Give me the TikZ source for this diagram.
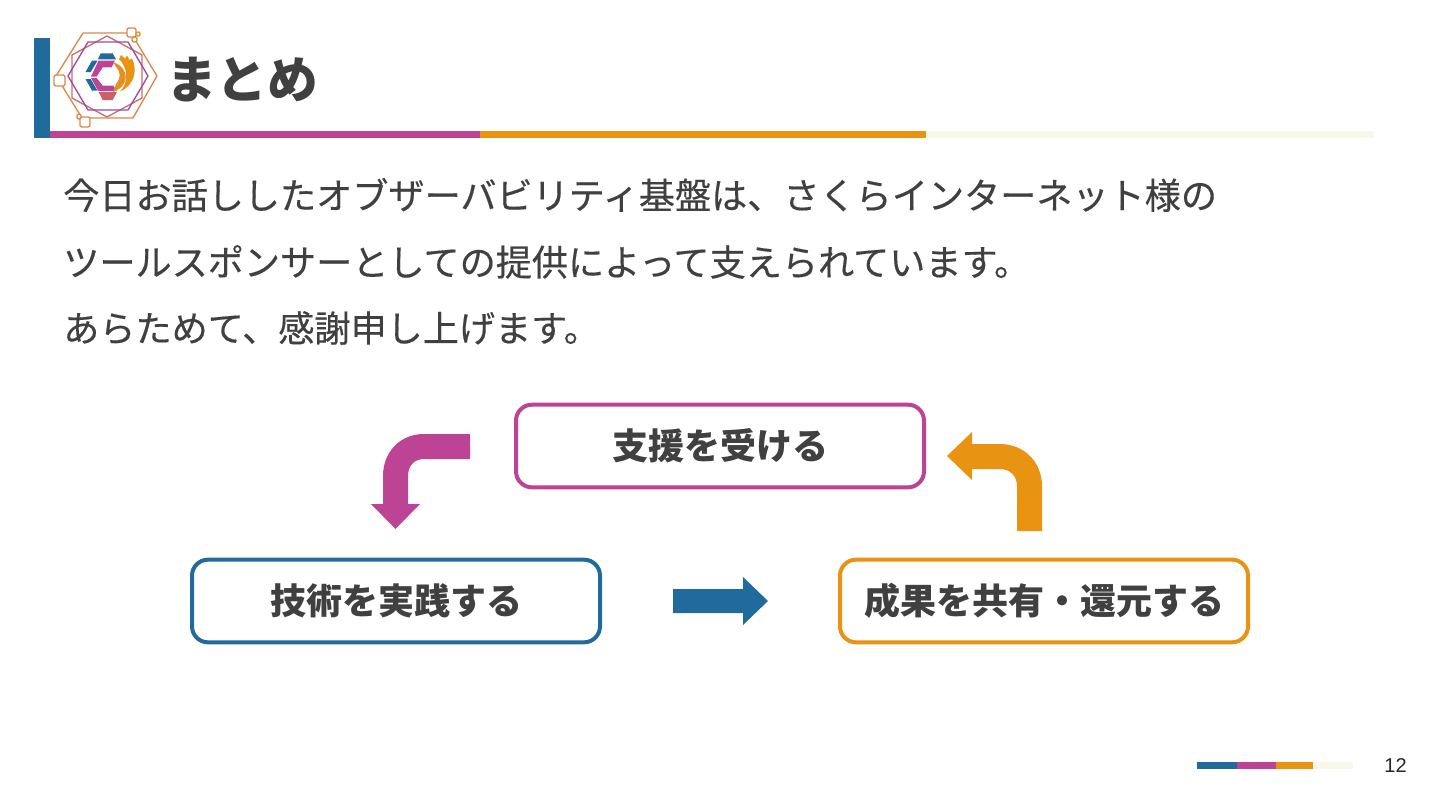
\documentclass[tikz,border=0pt]{standalone}
\usepackage{fontspec}
\setmainfont{Noto Sans CJK JP}
\newfontfamily\bodyfont[FakeBold=0.35]{Noto Sans CJK JP}
\newfontfamily\latinfont{Liberation Sans}
\usetikzlibrary{calc}
\definecolor{cblue}{HTML}{206A9C}
\definecolor{cpink}{HTML}{BD4494}
\definecolor{corange}{HTML}{E99312}
\definecolor{cpale}{HTML}{F8F8E8}
\definecolor{ctext}{HTML}{404040}
\definecolor{cbrown}{HTML}{D98A4B}
\definecolor{cpurple}{HTML}{9A4BA0}
\tikzset{
  x=0.75pt,y=-0.75pt,
  bodytext/.style={anchor=west,inner sep=0pt,text=ctext,font=\bodyfont\fontsize{27.1}{27.1}\selectfont},
  cyclebox/.style={draw=#1,line width=3pt,rounded corners=12pt,minimum width=306pt,minimum height=62pt,inner sep=0pt,fill=white,text=ctext,font=\fontsize{27}{27}\selectfont\bfseries},
  logoline/.style={draw=#1,line width=1pt,line join=round},
  tag/.style={draw=cbrown,line width=1pt,fill=white,rounded corners=1.5pt},
}
\begin{document}
\begin{tikzpicture}
\useasboundingbox (0,0) rectangle (1440,810);
\fill[white] (0,0) rectangle (1440,810);
% header bars
\fill[cblue] (34,38) rectangle (50,138);
\fill[cpink] (50,131) rectangle (480,138);
\fill[corange] (480,131) rectangle (926,138);
\fill[cpale] (926,131) rectangle (1374,138);
% logo outlines
\draw[logoline=cbrown] (83,33) -- (131,33) -- (157,76) -- (133,118) -- (82,118) -- (56,76) -- cycle;
\draw[logoline=cbrown!60!cpink] (107,36) -- (142,55) -- (142,98) -- (107,117) -- (72,98) -- (72,55) -- cycle;
\draw[logoline=cpurple] (88,42) -- (128,42) -- (148,76) -- (128,110) -- (88,110) -- (68,76) -- cycle;
\draw[tag] (54,75) rectangle (65,86);
\draw[tag] (80,117) rectangle (90,127);
\draw[tag] (127,28) rectangle (136,37);
\draw[tag] (132,37) rectangle (137,42);
\draw[tag,draw=corange,rounded corners=1pt] (136,32) rectangle (140,36);
\draw[tag] (77,114) rectangle (81,119);
% logo mark
\fill[cblue] (100.7,53.3) -- (112.7,53.3) -- (116,59.3) -- (98,59.3) -- cycle;
\fill[cblue] (85.5,72) -- (92,60.7) -- (97.5,60.7) -- (90.7,72) -- cycle;
\fill[cblue] (85.5,79) -- (90.7,79) -- (97.5,90.7) -- (92,90.7) -- cycle;
\fill[cpink] (98.5,60.7) -- (115,60.7) -- (111.7,67.3) -- (102.7,67.3) -- (96.7,76.5) -- (91,76.5) -- cycle;
\fill[cpink] (91,78) -- (96.7,78) -- (102.4,85.3) -- (98.3,91) -- cycle;
\fill[cpink] (100.7,85.7) -- (113.3,85.7) -- (117,91.2) -- (98.6,91.2) -- cycle;
\fill[cpink!65!corange] (98.6,92) -- (117,92) -- (112.7,100) -- (102.7,100) -- cycle;
\fill[corange!70!cbrown] (113,62) .. controls (130,68) and (130,86) .. (113,92) -- (116,84) .. controls (121,78) and (121,72) .. (116,67) -- cycle;
\fill[corange] (119,59) -- (121,55) -- (125,58.5) -- (127,55.5) -- (129.5,60) -- (132,58.5) .. controls (138,70) and (134,86) .. (120,91.5) .. controls (129,82) and (128,68) .. (119,59) -- cycle;
% title
\node[anchor=west,inner sep=0pt,text=ctext,font=\fontsize{38}{38}\selectfont\bfseries] (title) at (166,80) {まとめ};
% body text
\node[bodytext] (l1) at (63,195) {今日お話ししたオブザーバビリティ基盤は、さくらインターネット様の};
\node[bodytext] (l2) at (63,262) {ツールスポンサーとしての提供によって支えられています。};
\node[bodytext] (l3) at (63,328) {あらためて、感謝申し上げます。};
% boxes
\node[cyclebox=cpink] (support) at (720,446) {支援を受ける};
\node[cyclebox=cblue] (practice) at (396,601) {技術を実践する};
\node[cyclebox=corange] (share) at (1044,601) {成果を共有・還元する};
% arrows
\fill[cpink] (470,434) -- (470,459) -- (424,459) .. controls (414,459) and (408,466) .. (408,476) -- (408,504) -- (420,504) -- (395.5,529) -- (371,504) -- (383,504) -- (383,476) .. controls (383,452) and (400,434) .. (424,434) -- cycle;
\fill[corange] (1017,531) -- (1042,531) -- (1042,486) .. controls (1042,462) and (1024,444) .. (1000,444) -- (972,444) -- (972,432) -- (947,456) -- (972,480) -- (972,469) -- (1000,469) .. controls (1010,469) and (1017,476) .. (1017,486) -- cycle;
\fill[cblue] (673,589) -- (743,589) -- (743,577) -- (768,601) -- (743,625) -- (743,613) -- (673,613) -- cycle;
% footer
\fill[cblue] (1197,762) rectangle (1237,768.5);
\fill[cpink] (1237,762) rectangle (1276,768.5);
\fill[corange] (1276,762) rectangle (1313,768.5);
\fill[cpale] (1313,762) rectangle (1353,768.5);
\node[anchor=east,inner sep=0pt,text=black!85,font=\latinfont\fontsize{15}{15}\selectfont] (page) at (1407,766) {12};
\end{tikzpicture}
\end{document}
